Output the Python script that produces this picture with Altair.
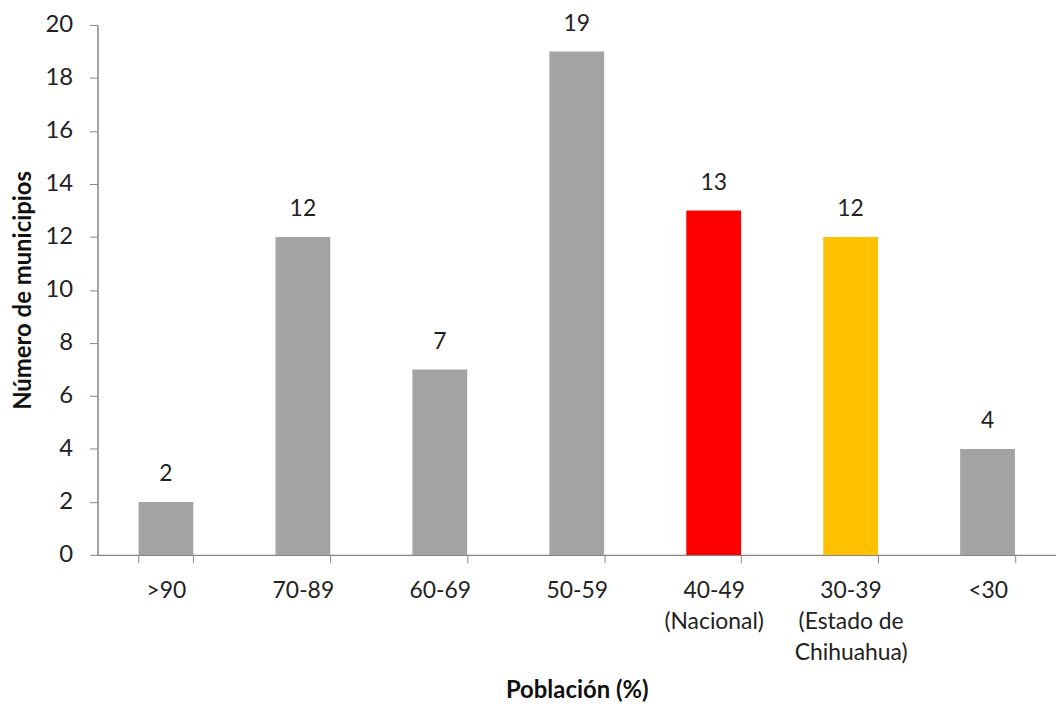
import altair as alt
import pandas as pd

categories = [">90", "70-89", "60-69", "50-59", "40-49|(Nacional)", "30-39|(Estado de|Chihuahua)", "<30"]
values = [2, 12, 7, 19, 13, 12, 4]
colors = ["#a3a3a3", "#a3a3a3", "#a3a3a3", "#a3a3a3", "#ff0000", "#ffc000", "#a3a3a3"]
y_ticks = [0, 2, 4, 6, 8, 10, 12, 14, 16, 18, 20]

df = pd.DataFrame({"cat": categories, "val": values, "color": colors})

FONT = "Lato"

x = alt.X("cat:N", sort=categories,
          scale=alt.Scale(paddingInner=0.6, paddingOuter=0.3),
          axis=alt.Axis(title="Población (%)", labelAngle=0, tickBand="extent",
                        labelExpr="split(datum.label, '|')", labelLineHeight=31,
                        labelPadding=17, labelBaseline="top", tickSize=8,
                        titlePadding=14, labelFontSize=23, titleFontSize=24,
                        titleFontWeight="bold"))
y = alt.Y("val:Q", scale=alt.Scale(domain=[0, 20]),
          axis=alt.Axis(title="Número de municipios", values=y_ticks, grid=False,
                        tickSize=8, labelPadding=17, labelFontSize=24,
                        titleFontSize=24, titleFontWeight="bold", titlePadding=10))

bars = alt.Chart(df).mark_bar().encode(
    x=x, y=y, color=alt.Color("color:N", scale=None)
)
labels = alt.Chart(df).mark_text(baseline="bottom", dy=-16, fontSize=23, font=FONT, color="#222222").encode(
    x=alt.X("cat:N", sort=categories), y="val:Q", text="val:Q"
)

chart = (bars + labels).properties(
    width=964, height=533,
    autosize=alt.AutoSizeParams(type="none"),
    padding={"left": 90, "top": 15, "right": 0, "bottom": 153},
).configure_view(stroke=None).configure_axis(
    labelFont=FONT, titleFont=FONT, labelColor="#222222", titleColor="#111111",
    domainColor="#868686", tickColor="#868686", domainWidth=1.5
)

chart.save("out.html", embed_options={"renderer": "svg", "actions": False})
